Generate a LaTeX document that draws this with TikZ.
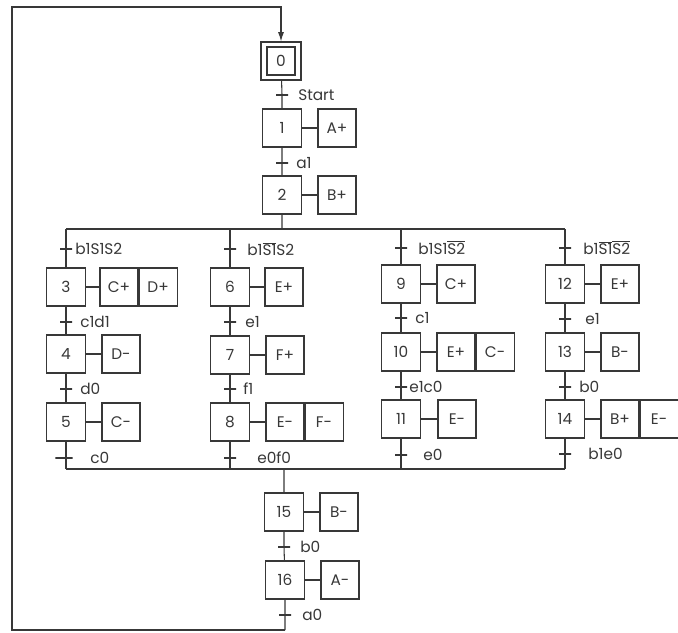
\documentclass[tikz,border=0pt]{standalone}
\usepackage{fontspec}
\setmainfont{Poppins}
\usetikzlibrary{arrows.meta}
\definecolor{ink}{gray}{0.22}
\newcommand{\ovl}[1]{$\overline{\hbox{#1}}$}
\begin{document}
\begin{tikzpicture}[x=0.75pt,y=-0.75pt,
  every node/.style={font=\fontsize{11.5}{13}\selectfont, text=ink},
  stepbox/.style={draw=ink, line width=0.8pt, minimum width=29pt, minimum height=28.5pt, inner sep=0pt},
  actbox/.style={draw=ink, line width=0.8pt, minimum width=28.5pt, minimum height=28.5pt, inner sep=0pt},
  tick/.style={draw=ink, line width=0.8pt, rectangle, minimum width=9pt, minimum height=0pt, inner sep=0pt},
  lbl/.style={anchor=west, inner sep=0pt},
  link/.style={draw=ink, line width=0.8pt}]
\path[use as bounding box, fill=white] (0,0) rectangle (678,632);

% initial step
\node[draw=ink, line width=0.8pt, minimum width=30pt, minimum height=28.5pt, inner sep=0pt] (s0) at (281,61) {};
\node[draw=ink, line width=0.8pt, minimum width=21pt, minimum height=21pt, inner sep=0pt] (s0i) at (281,61) {0};

% main top column
\node[tick] (t0) at (282,95) {};
\node[lbl] (l0) at (298,95) {Start};
\node[stepbox] (s1) at (282,128) {1};
\node[actbox] (a1) at (337,128) {A+};
\node[tick] (t1) at (282,163) {};
\node[lbl] (l1) at (296,163) {a1};
\node[stepbox] (s2) at (282,195) {2};
\node[actbox] (a2) at (337,195) {B+};

\coordinate (dv) at (282,229);
\coordinate (dL) at (66,229);
\coordinate (d2) at (230,229);
\coordinate (d3) at (401,229);
\coordinate (dR) at (565,229);

% branch 1
\node[tick] (tb1) at (66,249) {};
\node[lbl] (lb1) at (75,249) {b1S1S2};
\node[stepbox] (s3) at (66,287) {3};
\node[actbox] (a3) at (119,287) {C+};
\node[actbox, anchor=west] (a3b) at (a3.east) {D+};
\node[tick] (t3) at (66,322) {};
\node[lbl] (l3) at (80,322) {c1d1};
\node[stepbox] (s4) at (66,354) {4};
\node[actbox] (a4) at (121,354) {D-};
\node[tick] (t4) at (66,389) {};
\node[lbl] (l4) at (80,389) {d0};
\node[stepbox] (s5) at (66,422) {5};
\node[actbox] (a5) at (121,422) {C-};
\node[tick, minimum width=13pt] (t5) at (64,458) {};
\node[lbl] (l5) at (90,458) {c0};

% branch 2
\node[tick] (tb2) at (230,249) {};
\node[lbl] (lb2) at (247,249) {b1\ovl{S1}S2};
\node[stepbox] (s6) at (230,287) {6};
\node[actbox] (a6) at (284,287) {E+};
\node[tick] (t6) at (230,322) {};
\node[lbl] (l6) at (245,322) {e1};
\node[stepbox] (s7) at (230,355) {7};
\node[actbox] (a7) at (285,355) {F+};
\node[tick] (t7) at (230,389) {};
\node[lbl] (l7) at (243,389) {f1};
\node[stepbox] (s8) at (230,422) {8};
\node[actbox] (a8) at (285,422) {E-};
\node[actbox, anchor=west] (a8b) at (a8.east) {F-};
\node[tick] (t8) at (230,458) {};
\node[lbl] (l8) at (257,458) {e0f0};

% branch 3
\node[tick] (tb3) at (401,248) {};
\node[lbl] (lb3) at (418,248) {b1S1\ovl{S2}};
\node[stepbox] (s9) at (401,284) {9};
\node[actbox] (a9) at (456,284) {C+};
\node[tick] (t9) at (401,318) {};
\node[lbl] (l9) at (415,318) {c1};
\node[stepbox] (s10) at (401,352) {10};
\node[actbox] (a10) at (456,352) {E+};
\node[actbox, anchor=west] (a10b) at (a10.east) {C-};
\node[tick] (t10) at (401,387) {};
\node[lbl] (l10) at (409,387) {e1c0};
\node[stepbox] (s11) at (401,419) {11};
\node[actbox] (a11) at (457,419) {E-};
\node[tick] (t11) at (401,455) {};
\node[lbl] (l11) at (423,455) {e0};

% branch 4
\node[tick] (tb4) at (565,248) {};
\node[lbl] (lb4) at (583,248) {b1\ovl{S1}\ovl{S2}};
\node[stepbox] (s12) at (565,284) {12};
\node[actbox] (a12) at (620,284) {E+};
\node[tick] (t12) at (565,319) {};
\node[lbl] (l12) at (585,319) {e1};
\node[stepbox] (s13) at (565,352) {13};
\node[actbox] (a13) at (620,352) {B-};
\node[tick] (t13) at (565,387) {};
\node[lbl] (l13) at (579,387) {b0};
\node[stepbox] (s14) at (565,419) {14};
\node[actbox] (a14) at (620,419) {B+};
\node[actbox, anchor=west] (a14b) at (a14.east) {E-};
\node[tick] (t14) at (565,454) {};
\node[lbl] (l14) at (588,454) {b1e0};

\coordinate (cL) at (66,469);
\coordinate (c2) at (230,469);
\coordinate (c3) at (401,469);
\coordinate (cR) at (565,469);
\coordinate (cv) at (284,469);

% bottom column
\node[stepbox] (s15) at (284,512) {15};
\node[actbox] (a15) at (339,512) {B-};
\node[tick] (t15) at (284,547) {};
\node[lbl] (l15) at (300,547) {b0};
\node[stepbox] (s16) at (285,580) {16};
\node[actbox] (a16) at (340,580) {A-};
\node[tick] (t16) at (285,615) {};
\node[lbl] (l16) at (302,615) {a0};

\coordinate (r1) at (285,630);
\coordinate (r2) at (12,630);
\coordinate (r3) at (12,7);
\coordinate (r4) at (281,7);

% connectors
\path[link] (s0) -- (t0) -- (s1) -- (t1) -- (s2) -- (dv);
\path[link] (s1) -- (a1);
\path[link] (s2) -- (a2);
\path[link] (dL) -- (dR);
\path[link] (dL) -- (tb1) -- (s3) -- (t3) -- (s4) -- (t4) -- (s5) -- (t5 -| s5) -- (cL);
\path[link] (d2) -- (tb2) -- (s6) -- (t6) -- (s7) -- (t7) -- (s8) -- (t8) -- (c2);
\path[link] (d3) -- (tb3) -- (s9) -- (t9) -- (s10) -- (t10) -- (s11) -- (t11) -- (c3);
\path[link] (dR) -- (tb4) -- (s12) -- (t12) -- (s13) -- (t13) -- (s14) -- (t14) -- (cR);
\path[link] (s3) -- (a3);
\path[link] (s4) -- (a4);
\path[link] (s5) -- (a5);
\path[link] (s6) -- (a6);
\path[link] (s7) -- (a7);
\path[link] (s8) -- (a8);
\path[link] (s9) -- (a9);
\path[link] (s10) -- (a10);
\path[link] (s11) -- (a11);
\path[link] (s12) -- (a12);
\path[link] (s13) -- (a13);
\path[link] (s14) -- (a14);
\path[link] (cL) -- (cR);
\path[link] (cv) -- (s15) -- (t15) -- (s16) -- (t16) -- (r1);
\path[link] (s15) -- (a15);
\path[link] (s16) -- (a16);
\path[link, -{Latex[length=7pt,width=4.5pt]}] (r1) -- (r2) -- (r3) -- (r4) -- (s0);
\end{tikzpicture}
\end{document}
